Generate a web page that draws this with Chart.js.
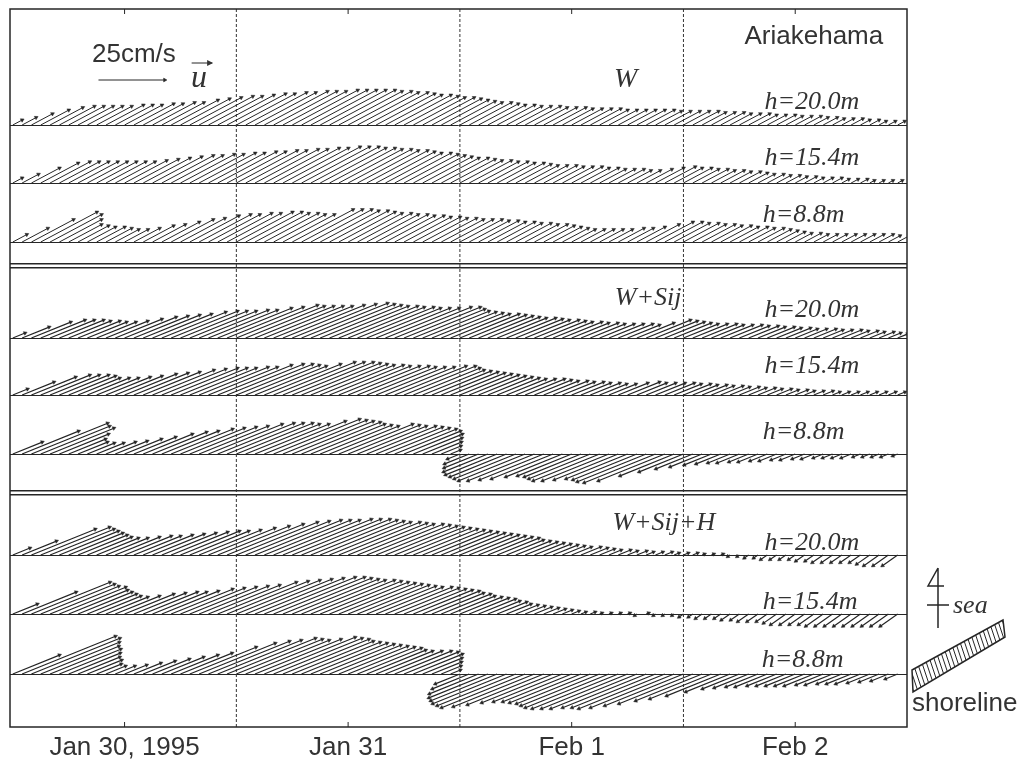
<!DOCTYPE html>
<html>
<head>
<meta charset="utf-8">
<script src="https://cdn.jsdelivr.net/npm/chart.js@4.4.1/dist/chart.umd.min.js"></script>
<style>
  html, body { margin: 0; padding: 0; background: #fff; }
  #wrap { width: 1026px; height: 767px; }
</style>
</head>
<body>
<div id="wrap"><canvas id="c"></canvas></div>
<script>
// hours since Jan 30 1995 00:00 (one stick per hour)
const hours = [];
for (let i = 0; i < 96; i++) hours.push(i);

const dayLabels = ['Jan 30, 1995', 'Jan 31', 'Feb 1', 'Feb 2'];
const noonHours = [12, 36, 60, 84];
const dayBounds = [24, 48, 72];

// current speed along the principal axis, cm/s (negative = reversed flow)
// panel W
const sW20 = [4, 6,9,12,14,15,15,15,15,15,16, 16,16,17,17,18,18,20,21,22,23, 23,24,25,25,26,26,27,27,27,28,
  28,28,28,28,27,27,26,26,25,24, 24,23,22,22,21,20,19,18,18,17, 16,16,15,15,15,14,14,14,13,13,
  13,13,12,12,12,12,12,12,11,11, 11,11,11,10,10,10,9,9,9,8, 8,8,7,7,7,6,6,5,5,5, 4,4,3,3,3];
const sW15 = [4, 7,12,16,17,17,17,17,17,17,17, 17,18,19,20,21,22,22,23,23,24, 24,25,25,26,26,27,27,28,28,29,
  29,29,28,28,27,27,26,26,25,24, 24,23,22,21,20,20,19,18,18,17, 17,16,16,15,14,14,14,13,13,13,
  12,12,11,11,11,10,10,11,12,13, 12,12,11,11,10,10,9,9,8,7, 7,6,6,5,5,4,4,4,3,3, 3,2,2,2,2];
const sW88 = [6, 11,18,24,22,18,14,13,12,12,11, 10,10,11,13,14,16,18,19,21,22, 22,23,23,24,24,23,23,22,22,26,
  26,26,25,25,24,23,23,22,22,21, 21,20,20,19,19,18,18,18,17,17, 16,16,15,15,14,14,13,12,11,10,
  10,10,10,10,11,11,12,14,16,16, 15,15,14,14,13,13,12,12,11,11, 10,9,8,7,7,6,6,6,6,6, 6,6,6,5,5];
// panel W+Sij
const sS20 = [5, 11,16,18,18,18,17,17,16,16,17, 19,21,22,23,24,26,27,27,27,28, 28,30,31,33,32,32,32,32,33,34,
  35,34,33,32,32,31,31,30,30,30, 31,31,29,27,26,25,24,24,23,22, 21,20,20,19,18,18,17,16,16,15,
  15,14,14,14,14,13,15,18,17,16, 15,14,14,14,13,13,13,12,12,11, 11,10,10,9,9,9,8,8,8,7, 7,6,6,5,4];
const sS15 = [6, 13,18,20,20,20,19,17,17,17,18, 19,21,22,23,25,26,27,27,27,28, 28,30,31,31,30,29,31,33,33,33,
  32,31,30,30,29,29,29,28,28,28, 29,29,27,25,24,23,22,21,20,19, 18,17,16,16,16,15,14,14,13,13,
  12,12,11,11,12,13,12,12,12,12, 11,11,10,10,9,9,8,8,7,7, 6,6,5,5,4,4,4,3,3,3, 3,3,3,3,3];
const sS88 = [12, 23,31,28,26,20,15,12,11,11,12, 13,15,17,20,22,23,25,26,27,28, 30,31,31,31,30,30,33,35,34,33,
  32,30,29,28,30,29,28,28,27,26, 25,23,20,16,12,8,4,-5,-10,-14, -18,-21,-23,-25,-27,-27,-26,-25,-23,-22,
  -23,-25,-27,-27,-26,-25,-26,-28,-29,-27, -22,-18,-15,-13,-11,-10,-9,-9,-8,-8, -7,-7,-6,-6,-5,-5,-4,-4,-4,-4, -3,-3,-3,-3,-2];
// panel W+Sij+H
const sH20 = [7, 14,26,28,26,24,22,20,18,17,17, 18,19,19,20,21,22,23,24,24,25, 27,29,31,33,34,35,35,35,36,36,
  36,35,34,33,33,32,31,31,30,29, 28,27,26,25,24,23,22,21,20,19, 18,17,15,14,13,12,11,10,9,8,
  8,7,6,5,5,4,4,3,3,3, 2,2,2,1,1,1,-1,-1,-2,-2, -3,-3,-3,-3,-4,-4,-5,-5,-5,-5, -5,-6,-7,-7,-7];
const sH15 = [10, 22,32,30,28,27,24,22,20,18,17, 18,20,21,22,22,23,25,26,27,28, 29,32,33,34,35,36,37,37,36,35,
  34,34,33,32,31,30,29,28,27,27, 26,25,24,23,21,20,18,17,16,15, 13,12,10,9,8,7,6,5,4,3,
  2,2,1,1,1,1,-1,1,-1,-1, -1,-2,-2,-3,-3,-3,-4,-4,-5,-5, -5,-6,-7,-7,-7,-7,-8,-8,-8,-8, -8,-8,-8,-8,-8];
const sH88 = [19, 38,36,32,28,25,21,17,14,10,8, 8,9,11,13,15,17,19,21,27,31, 33,34,36,35,34,35,37,36,35,33,
  32,31,30,29,28,27,26,24,23,23, 23,22,20,16,12,8,4,-10,-15,-20, -24,-27,-30,-32,-34,-33,-31,-29,-28,-28,
  -29,-30,-32,-34,-35,-35,-35,-34,-34,-35, -34,-32,-30,-27,-25,-22,-18,-15,-14,-13, -13,-12,-12,-12,-12,-12,-11,-11,-10,-10, -10,-9,-8,-7,-5];

// stick direction on the page, degrees: flow with / against the principal axis
const dirW = 28, dirS = 22, dirH = 22, dirHback = 35;

const INK = '#262626';
const PX_PER_CMS = 2.65;          // 25 cm/s reference arrow
const X_MIN = -0.3, X_MAX = 96;
const PLOT_W = 897, PLOT_H = 718;  // plot area in px, y axis counts px from top
const H_PER_PX = (X_MAX - X_MIN) / PLOT_W;

// baselines of the nine stick rows and the panel separators (y units from top)
const rows = [
  {speed: sW20, base: 116, deg: dirW, back: dirW, w: 1},
  {speed: sW15, base: 174, deg: dirW, back: dirW, w: 1},
  {speed: sW88, base: 233, deg: dirW, back: dirW, w: 1},
  {speed: sS20, base: 329, deg: dirS, back: dirS, w: 1.2},
  {speed: sS15, base: 386, deg: dirS, back: dirS, w: 1.2},
  {speed: sS88, base: 445, deg: dirS, back: dirS, w: 1.2},
  {speed: sH20, base: 546, deg: dirH, back: dirHback, w: 1.2},
  {speed: sH15, base: 605, deg: dirH, back: dirHback, w: 1.2},
  {speed: sH88, base: 665, deg: dirH, back: dirH, w: 1.2}
];
const separators = [255, 259, 482, 486];
const rowLines = rows.map(r => r.base).concat(separators);

// one stick: base point, tip point, gap
function vec(t, base, s, deg) {
  const screenDeg = s >= 0 ? deg : deg + 180;
  const a = screenDeg * Math.PI / 180;
  const len = Math.abs(s) * PX_PER_CMS;
  return [
    {x: t, y: base},
    {x: t + len * Math.cos(a) * H_PER_PX, y: base - len * Math.sin(a), tip: true, rot: 90 - screenDeg},
    {x: t, y: null}
  ];
}

const stickStyle = {
  borderColor: INK, borderWidth: 1, tension: 0, fill: false,
  pointStyle: 'triangle',
  pointRadius: c => (c.raw && c.raw.tip) ? 2.2 : 0,
  pointRotation: c => (c.raw && c.raw.rot) || 0,
  pointBackgroundColor: INK, pointBorderColor: INK, pointBorderWidth: 0.5
};

const datasets = rows.map(r => Object.assign({}, stickStyle, {
  data: r.speed.flatMap((s, i) => vec(hours[i], r.base, s, s >= 0 ? r.deg : r.back)),
  borderWidth: r.w
}));

// 25 cm/s scale arrow
datasets.push(Object.assign({}, stickStyle, {data: vec(9.2, 71, 25, 0)}));

// day boundaries
dayBounds.forEach(d => datasets.push({
  data: [{x: d, y: 0}, {x: d, y: PLOT_H}],
  borderColor: '#333', borderWidth: 1, borderDash: [3, 2], pointRadius: 0
}));

const SERIF = 'italic 26px "Liberation Serif"';
const SANS = '26px "Liberation Sans"';
const notes = [
  {text: '25cm/s', h: 13.0, y: 46, font: SANS},
  {text: 'Ariakehama', h: 86.0, y: 28, font: SANS},
  {text: 'W', h: 65.8, y: 71, font: 'italic 28px "Liberation Serif"'},
  {text: 'u', h: 20.0, y: 70, font: 'italic 32px "Liberation Serif"'},
  {text: 'h=20.0m', h: 85.8, y: 93, font: SERIF},
  {text: 'h=15.4m', h: 85.8, y: 149, font: SERIF},
  {text: 'h=8.8m', h: 84.9, y: 206, font: SERIF},
  {text: 'W+Sij', h: 68.2, y: 289, font: SERIF},
  {text: 'h=20.0m', h: 85.8, y: 301, font: SERIF},
  {text: 'h=15.4m', h: 85.8, y: 357, font: SERIF},
  {text: 'h=8.8m', h: 84.9, y: 423, font: SERIF},
  {text: 'W+Sij+H', h: 69.9, y: 514, font: SERIF},
  {text: 'h=20.0m', h: 85.8, y: 534, font: SERIF},
  {text: 'h=15.4m', h: 85.6, y: 593, font: SERIF},
  {text: 'h=8.8m', h: 84.8, y: 651, font: SERIF}
];

const annotate = {
  id: 'annotate',
  afterDraw(chart) {
    const {ctx, chartArea: a, scales: {x, y}} = chart;
    ctx.save();
    ctx.strokeStyle = INK;
    ctx.fillStyle = INK;

    // frame
    ctx.lineWidth = 1.5;
    ctx.strokeRect(a.left, a.top, a.right - a.left, a.bottom - a.top);

    // inward noon ticks, top and bottom
    ctx.lineWidth = 1;
    ctx.beginPath();
    noonHours.forEach(hh => {
      const px = x.getPixelForValue(hh);
      ctx.moveTo(px, a.top); ctx.lineTo(px, a.top + 5);
      ctx.moveTo(px, a.bottom); ctx.lineTo(px, a.bottom - 5);
    });
    ctx.stroke();

    // texts
    ctx.textAlign = 'center';
    ctx.textBaseline = 'middle';
    ctx.fillStyle = '#333';
    notes.forEach(n => {
      ctx.font = n.font;
      ctx.fillText(n.text, x.getPixelForValue(n.h), y.getPixelForValue(n.y));
    });

    // vector arrow over u
    const ux0 = x.getPixelForValue(19.2), ux1 = x.getPixelForValue(21.4), uy = y.getPixelForValue(54);
    ctx.beginPath();
    ctx.moveTo(ux0, uy); ctx.lineTo(ux1, uy);
    ctx.stroke();
    ctx.beginPath();
    ctx.moveTo(ux1 + 1, uy); ctx.lineTo(ux1 - 5, uy - 3); ctx.lineTo(ux1 - 5, uy + 3);
    ctx.closePath(); ctx.fill();

    // sea direction marker
    const ox = a.right, oy = a.top;
    ctx.lineWidth = 1.5;
    ctx.beginPath();
    ctx.moveTo(ox + 31, oy + 559); ctx.lineTo(ox + 31, oy + 619);
    ctx.moveTo(ox + 31, oy + 559); ctx.lineTo(ox + 21, oy + 577); ctx.lineTo(ox + 37, oy + 577);
    ctx.moveTo(ox + 20, oy + 596); ctx.lineTo(ox + 42, oy + 596);
    ctx.stroke();
    ctx.textAlign = 'left';
    ctx.font = SERIF;
    ctx.fillText('sea', ox + 46, oy + 597);

    // shoreline band
    const poly = [[5, 661], [96, 611], [98, 628], [6, 683]];
    ctx.beginPath();
    poly.forEach((p, i) => i ? ctx.lineTo(ox + p[0], oy + p[1]) : ctx.moveTo(ox + p[0], oy + p[1]));
    ctx.closePath();
    ctx.lineWidth = 1.5;
    ctx.stroke();
    ctx.save();
    ctx.clip();
    ctx.lineWidth = 1;
    ctx.beginPath();
    for (let k = -30; k < 110; k += 4.5) {
      ctx.moveTo(ox + k, oy + 600); ctx.lineTo(ox + k + 30, oy + 690);
    }
    ctx.stroke();
    ctx.restore();
    ctx.font = SANS;
    ctx.fillText('shoreline', ox + 5, oy + 695);
    ctx.restore();
  }
};

new Chart(document.getElementById('c'), {
  type: 'line',
  data: {datasets: datasets},
  options: {
    animation: false,
    responsive: true,
    maintainAspectRatio: false,
    events: [],
    layout: {padding: {left: 10, top: 9, right: 119, bottom: -2}},
    plugins: {legend: {display: false}, tooltip: {enabled: false}},
    scales: {
      x: {
        type: 'linear', min: X_MIN, max: X_MAX,
        afterBuildTicks: s => { s.ticks = noonHours.map(v => ({value: v})); },
        ticks: {
          callback: v => dayLabels[noonHours.indexOf(v)],
          color: '#333', font: {family: 'Liberation Sans', size: 26, lineHeight: 1},
          padding: 8, maxRotation: 0, autoSkip: false
        },
        grid: {display: false, drawTicks: false},
        border: {display: false}
      },
      y: {
        type: 'linear', reverse: true, min: 0, max: PLOT_H,
        afterBuildTicks: s => { s.ticks = rowLines.map(v => ({value: v})); },
        ticks: {display: false},
        grid: {color: INK, lineWidth: c => separators.includes(c.tick.value) ? 1.5 : 1, drawTicks: false},
        border: {display: false}
      }
    }
  },
  plugins: [annotate]
});
</script>
</body>
</html>
